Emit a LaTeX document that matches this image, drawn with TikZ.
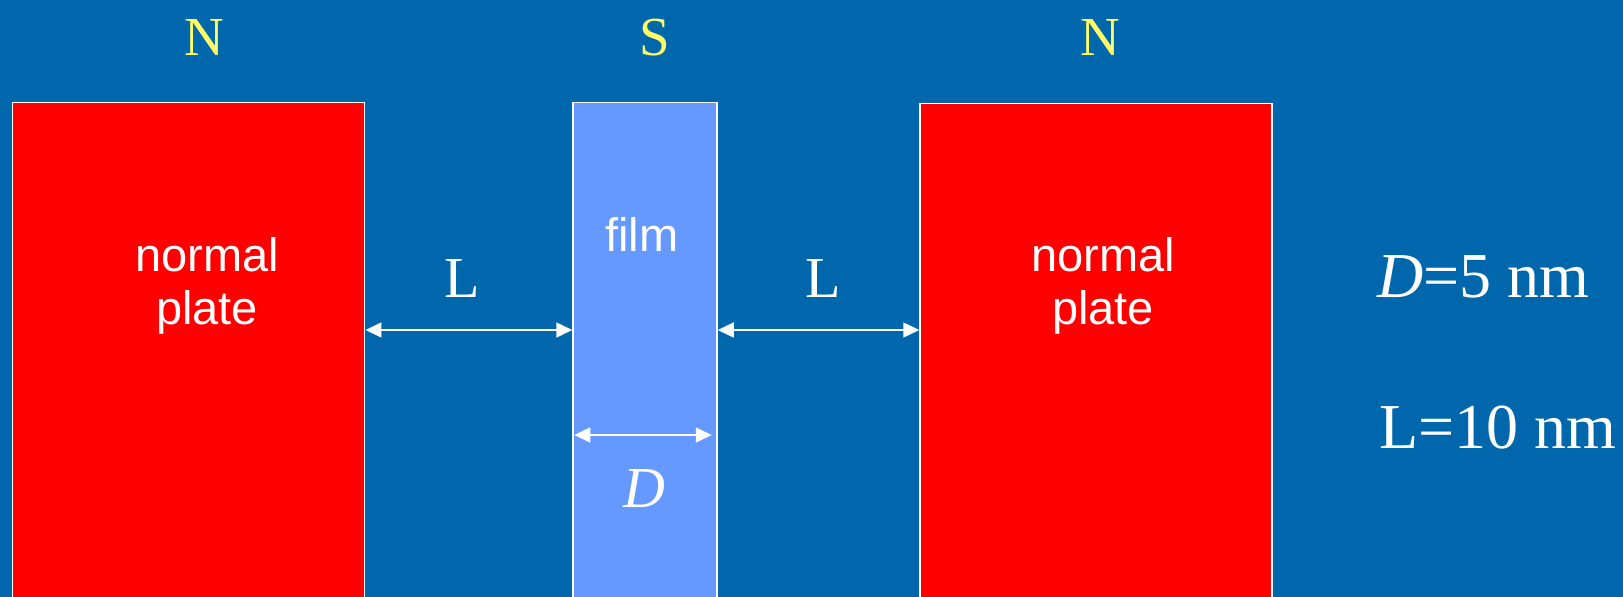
\documentclass[tikz,border=0pt]{standalone}
\usepackage{fontspec}
\setmainfont{Liberation Serif}
\newfontfamily\arialfont{Liberation Sans}
\usetikzlibrary{arrows.meta}
\definecolor{bg}{RGB}{0,103,172}
\definecolor{platered}{RGB}{255,0,0}
\definecolor{filmblue}{RGB}{102,153,255}
\definecolor{lbl}{RGB}{255,255,102}
\tikzset{
  platebox/.style={draw=white, line width=1.5pt, fill=platered, inner sep=0pt, minimum width=352pt, minimum height=508pt},
  filmbox/.style={draw=white, line width=1.5pt, fill=filmblue, inner sep=0pt, minimum width=144pt, minimum height=508pt},
  phase/.style={text=lbl, inner sep=0pt, anchor=base, font=\fontsize{55}{60}\selectfont},
  sans/.style={text=white, inner sep=0pt, anchor=base, align=center, font=\arialfont\fontsize{47}{53}\selectfont},
  serif/.style={text=white, inner sep=0pt, anchor=base, font=\fontsize{58}{64}\selectfont},
  param/.style={text=white, inner sep=0pt, anchor=base west, font=\fontsize{64}{70}\selectfont},
  dim/.style={draw=white, line width=1.5pt, {Triangle[length=16pt,width=15pt]}-{Triangle[length=16pt,width=15pt]}}
}
\begin{document}
\begin{tikzpicture}[x=1pt,y=-1pt]
\useasboundingbox (0,0) rectangle (1623,597);
\clip (0,0) rectangle (1623,597);
\fill[bg] (0,0) rectangle (1623,597);
% plates and film
\node[platebox] (lp) at (188.7,356.5) {};
\node[filmbox] (film) at (645,356.5) {};
\node[platebox] (rp) at (1096,357.5) {};
% phase labels
\node[phase] (n1) at (204,55) {N};
\node[phase] (s) at (655,55) {S};
\node[phase] (n2) at (1100,55) {N};
% texts inside
\node[sans] (lt) at (207,324) {normal\\plate};
\node[sans] (ft) at (642,251) {film};
\node[sans] (rt) at (1103,324) {normal\\plate};
% dimension arrows
\draw[dim] (lp.east |- 0,330) -- (film.west |- 0,330);
\draw[dim] (film.east |- 0,330) -- (rp.west |- 0,330);
\draw[dim] ([xshift=2pt]film.west |- 0,435) -- ([xshift=-6pt]film.east |- 0,435);
\node[serif] (l1) at (462,297) {L};
\node[serif] (l2) at (823,297) {L};
\node[serif] (dl) at (644,507) {\textit{D}};
% parameters
\node[param] (pd) at (1377,297) {\textit{D}=5 nm};
\node[param] (pl) at (1379,448) {L=10 nm};
\end{tikzpicture}
\end{document}
